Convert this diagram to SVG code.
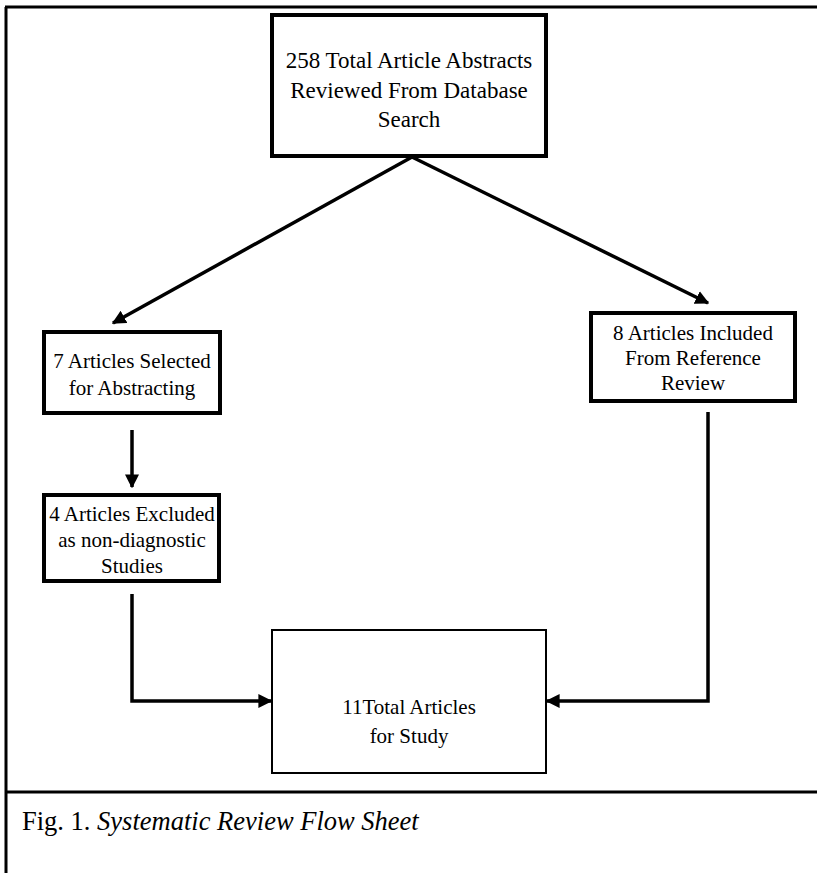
<svg xmlns="http://www.w3.org/2000/svg" width="817" height="873" viewBox="0 0 817 873">
<defs>
<style>
.box{fill:#fff;stroke:#000;stroke-width:4}
.thin{fill:#fff;stroke:#000;stroke-width:2}
.t{font-family:"Liberation Serif","Times New Roman",serif;font-size:21px;fill:#000;text-anchor:middle}
.big{font-size:23px}
.con{fill:none;stroke:#000;stroke-width:3.5}
.frame{fill:none;stroke:#000;stroke-width:3}
</style>
<marker id="ah" viewBox="0 0 10 10" refX="9" refY="5" markerWidth="4" markerHeight="4" orient="auto" markerUnits="strokeWidth">
<path d="M0,0 L10,5 L0,10 z" fill="#000"/>
</marker>
</defs>
<rect width="817" height="873" fill="#fff"/>
<g id="frame">
<line class="frame" x1="5" y1="7" x2="817" y2="7"/>
<line class="frame" x1="6" y1="7" x2="6" y2="873"/>
<line class="frame" x1="5" y1="792" x2="817" y2="792"/>
</g>
<g id="connectors">
<line class="con" x1="412" y1="157" x2="113" y2="323" marker-end="url(#ah)"/>
<line class="con" x1="412" y1="157" x2="708" y2="303" marker-end="url(#ah)"/>
<line class="con" x1="132" y1="430" x2="132" y2="487" marker-end="url(#ah)"/>
<polyline class="con" points="132,594 132,701 271,701" marker-end="url(#ah)"/>
<polyline class="con" points="708,412 708,701 547,701" marker-end="url(#ah)"/>
</g>
<g id="n1">
<rect class="box" x="272" y="15" width="274" height="141"/>
<text class="t big" x="409" y="68">258 Total Article Abstracts</text>
<text class="t big" x="409" y="98">Reviewed From Database</text>
<text class="t big" x="409" y="127">Search</text>
</g>
<g id="n2">
<rect class="box" x="44" y="332" width="176" height="81"/>
<text class="t" x="132" y="368">7 Articles Selected</text>
<text class="t" x="132" y="395">for Abstracting</text>
</g>
<g id="n3">
<rect class="box" x="591" y="313" width="204" height="88"/>
<text class="t" x="693" y="340">8 Articles Included</text>
<text class="t" x="693" y="365">From Reference</text>
<text class="t" x="693" y="390">Review</text>
</g>
<g id="n4">
<rect class="box" x="44" y="495" width="175" height="86"/>
<text class="t" x="132" y="521">4 Articles Excluded</text>
<text class="t" x="132" y="547">as non-diagnostic</text>
<text class="t" x="132" y="573">Studies</text>
</g>
<g id="n5">
<rect class="thin" x="272" y="630" width="274" height="143"/>
<text class="t" x="409" y="714">11Total Articles</text>
<text class="t" x="409" y="743">for Study</text>
</g>
<g id="caption">
<text x="22" y="830" style="font-family:'Liberation Serif','Times New Roman',serif;font-size:26.5px;fill:#000">Fig. 1. <tspan font-style="italic">Systematic Review Flow Sheet</tspan></text>
</g>
</svg>
